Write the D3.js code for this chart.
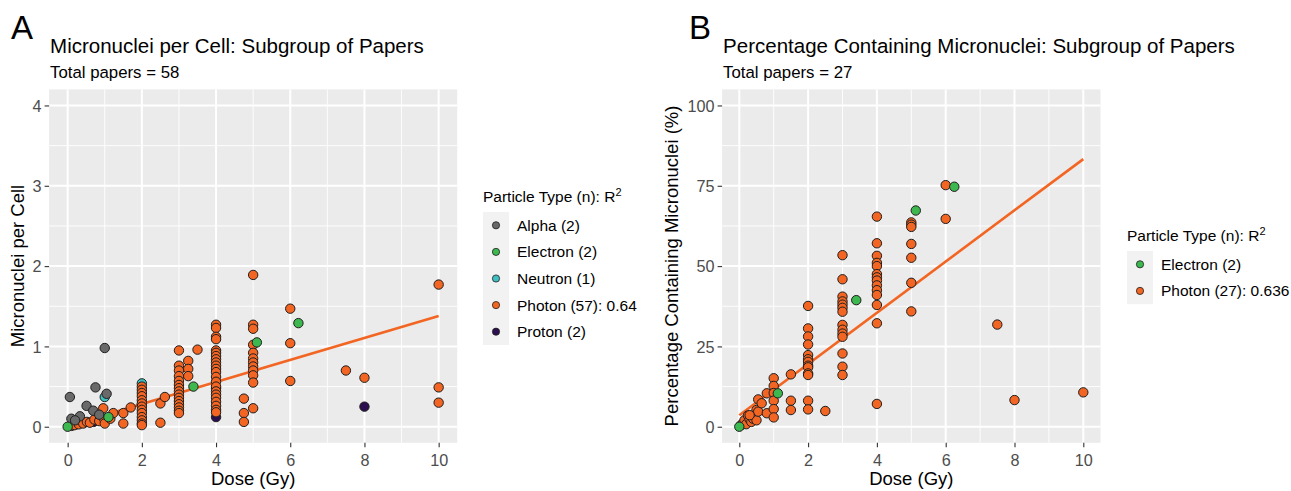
<!DOCTYPE html>
<html><head><meta charset="utf-8">
<script src="https://cdn.jsdelivr.net/npm/d3@7"></script>
<style>
body{margin:0;background:#fff;}
text{font-family:"Liberation Sans",Arial,Helvetica,sans-serif;}
</style>
</head><body>
<svg id="chart" width="1291" height="491"></svg>
<script>
// ---------------- DATA ----------------
const xTicks = [0, 2, 4, 6, 8, 10];
const xMinor = [1, 3, 5, 7, 9];
const yTicksA = [0, 1, 2, 3, 4];
const yMinorA = [0.5, 1.5, 2.5, 3.5];
const yTicksB = [0, 25, 50, 75, 100];
const yMinorB = [12.5, 37.5, 62.5, 87.5];

const categoriesA = ["Alpha", "Electron", "Neutron", "Photon", "Proton"];
const legendLabelsA = ["Alpha (2)", "Electron (2)", "Neutron (1)", "Photon (57): 0.64", "Proton (2)"];
const categoriesB = ["Electron", "Photon"];
const legendLabelsB = ["Electron (2)", "Photon (27): 0.636"];

// Panel A: [dose (Gy), micronuclei per cell]
const alphaA = [[0.06,0.37],[1.0,0.98],[0.75,0.49],[1.05,0.41],[0.51,0.26],[0.69,0.2],[0.1,0.1],[0.33,0.13],[0.2,0.08],[0.85,0.15]];
const electronA = [[0,0],[1.1,0.12],[3.39,0.5],[5.1,1.05],[6.22,1.29]];
const neutronA = [[1.0,0.37],[2.0,0.54]];
const protonA = [[2,0.27],[4,0.48],[4,0.12],[8,0.25],[0.7,0.06]];
const photonA = [
  [0.1,0.01],[0.19,0.02],[0.3,0.03],[0.42,0.04],[0.52,0.06],[0.6,0.05],[0.72,0.09],[0.85,0.07],[0.98,0.1],[0.96,0.23],
  [1.0,0.04],[1.15,0.1],[1.23,0.17],[1.5,0.17],[1.5,0.04],[1.7,0.24],
  [2,0.5],[2,0.46],[2,0.42],[2,0.38],[2,0.33],[2,0.29],[2,0.25],[2,0.21],[2,0.17],[2,0.12],[2,0.08],[2,0.04],[2,0.02],
  [2.5,0.29],[2.62,0.37],[2.5,0.05],
  [3,0.95],[3,0.76],[3,0.7],[3,0.63],[3,0.57],[3,0.52],[3,0.48],[3,0.44],[3,0.4],[3,0.36],[3,0.32],[3,0.28],[3,0.24],[3,0.2],[3,0.17],
  [3.25,0.82],[3.25,0.72],[3.25,0.63],[3.5,0.96],
  [4,1.27],[4,1.23],[4,1.12],[4,1.09],[4,0.95],[4,0.92],[4,0.88],[4,0.84],[4,0.8],[4,0.76],[4,0.72],[4,0.68],[4,0.62],[4,0.56],[4,0.5],[4,0.44],[4,0.4],[4,0.36],[4,0.31],[4,0.26],[4,0.21],[4,0.18],
  [4.75,0.35],[4.75,0.17],[4.75,0.06],
  [5,1.89],[5,1.27],[5,1.22],[5,1.02],[5,0.92],[5,0.85],[5,0.8],[5,0.75],[5,0.7],[5,0.64],[5,0.55],[5,0.23],
  [6,1.47],[6,1.04],[6,0.57],[7.5,0.7],[8,0.61],[10,1.77],[10,0.49],[10,0.3]
];
const fitLineA = [[0,0.01],[10,1.38]];

// Panel B: [dose (Gy), percentage containing micronuclei]
const electronB = [[0,0],[1.12,10.4],[3.4,39.4],[5.13,67.3],[6.25,74.7]];
const photonB = [
  [0.05,0.5],[0.1,1],[0.15,2],[0.2,0.8],[0.25,3.5],[0.3,2.3],[0.35,1.5],[0.4,2.5],[0.5,2],[0.5,5.2],[0.55,8.5],[0.55,4.7],[0.65,7.3],[0.3,3.6],[0.8,10.4],[0.8,4.2],
  [1,15.1],[1,12.7],[1,10.5],[1,8.1],[1,5.5],[1,2.9],
  [1.5,16.3],[1.5,8.1],[1.5,5.2],
  [2,37.6],[2,30.6],[2,28.1],[2,25.6],[2,22.3],[2,21],[2,20.2],[2,19],[2,18.5],[2,16.6],[2,16.1],[2,8.1],[2,5.4],
  [2.5,4.9],
  [3,53.4],[3,45.9],[3,40.5],[3,39],[3,38],[3,37],[3,35.8],[3,31.7],[3,30.2],[3,29],[3,28],[3,22.8],[3,18.7],[3,16.1],
  [4,65.4],[4,57.1],[4,53.2],[4,51],[4,50],[4,47.5],[4,46.5],[4,45.5],[4,44],[4,42.5],[4,41],[4,37.9],[4,32.2],[4,7.1],
  [5,63.6],[5,62.9],[5,62.2],[5,56.9],[5,52.6],[5,44.8],[5,35.9],
  [6,75.2],[6,64.7],[7.5,31.8],[8,8.3],[10,10.7]
];
const fitLineB = [[0,3.6],[10,83.3]];

// ---------------- STYLE ----------------
const colors = {Alpha:"#696969", Electron:"#3cb84f", Neutron:"#3fbfbf", Photon:"#f26522", Proton:"#2c0f4f"};
const FONT = '"Liberation Sans",Arial,sans-serif';
const svg = d3.select("#chart");

function drawPanel(cfg){
  const x = d3.scaleLinear().domain([-0.5, 10.5]).range(cfg.xRange);
  const y = d3.scaleLinear().domain(cfg.yDomain).range([442.8, 89.4]);
  const g = svg.append("g");

  g.append("text").attr("x", cfg.letterX).attr("y", 39).attr("font-size", 33).attr("fill", "#000").text(cfg.letter);
  g.append("text").attr("x", cfg.xRange[0]+1).attr("y", 53).attr("font-size", 20.5).attr("fill", "#000").text(cfg.title);
  g.append("text").attr("x", cfg.xRange[0]+1).attr("y", 78).attr("font-size", 16.8).attr("fill", "#000").text(cfg.subtitle);

  g.append("rect").attr("x", cfg.xRange[0]).attr("y", 89.4)
    .attr("width", cfg.xRange[1]-cfg.xRange[0]).attr("height", 442.8-89.4).attr("fill", "#ebebeb");

  const grid = g.append("g");
  grid.selectAll(".vmin").data(xMinor).join("line").attr("class","vmin")
    .attr("x1", d=>x(d)).attr("x2", d=>x(d)).attr("y1", 89.4).attr("y2", 442.8)
    .attr("stroke", "#fff").attr("stroke-width", 0.9);
  grid.selectAll(".hmin").data(cfg.yMinor).join("line").attr("class","hmin")
    .attr("y1", d=>y(d)).attr("y2", d=>y(d)).attr("x1", cfg.xRange[0]).attr("x2", cfg.xRange[1])
    .attr("stroke", "#fff").attr("stroke-width", 0.9);
  grid.selectAll(".vmaj").data(xTicks).join("line").attr("class","vmaj")
    .attr("x1", d=>x(d)).attr("x2", d=>x(d)).attr("y1", 89.4).attr("y2", 442.8)
    .attr("stroke", "#fff").attr("stroke-width", 2);
  grid.selectAll(".hmaj").data(cfg.yTicks).join("line").attr("class","hmaj")
    .attr("y1", d=>y(d)).attr("y2", d=>y(d)).attr("x1", cfg.xRange[0]).attr("x2", cfg.xRange[1])
    .attr("stroke", "#fff").attr("stroke-width", 2);

  const xAxis = g.append("g").attr("transform", "translate(0,442.8)")
    .call(d3.axisBottom(x).tickValues(xTicks).tickSize(4.5).tickPadding(3).tickFormat(d3.format("d")));
  const yAxis = g.append("g").attr("transform", `translate(${cfg.xRange[0]},0)`)
    .call(d3.axisLeft(y).tickValues(cfg.yTicks).tickSize(4.5).tickPadding(3).tickFormat(d3.format("d")));
  [xAxis, yAxis].forEach(a=>{
    a.select(".domain").remove();
    a.selectAll(".tick line").attr("stroke", "#333").attr("stroke-width", 1.1);
    a.selectAll(".tick text").attr("fill", "#4d4d4d").attr("font-size", 16.2).attr("font-family", FONT);
  });
  xAxis.selectAll(".tick text").attr("dy", "0.95em");
  yAxis.selectAll(".tick text").attr("dy", "0.36em");

  g.append("text").attr("x", (cfg.xRange[0]+cfg.xRange[1])/2).attr("y", 485)
    .attr("text-anchor", "middle").attr("font-size", 18.5).attr("fill", "#000").text("Dose (Gy)");
  g.append("text").attr("transform", `translate(${cfg.yTitleX},266) rotate(-90)`)
    .attr("text-anchor", "middle").attr("font-size", 18.5).attr("fill", "#000").text(cfg.yTitle);

  const clip = "clip-" + cfg.letter;
  g.append("clipPath").attr("id", clip).append("rect")
    .attr("x", cfg.xRange[0]).attr("y", 89.4).attr("width", cfg.xRange[1]-cfg.xRange[0]).attr("height", 442.8-89.4);
  g.append("path").datum(cfg.fit).attr("clip-path", `url(#${clip})`)
    .attr("d", d3.line().x(d=>x(d[0])).y(d=>y(d[1])))
    .attr("fill", "none").attr("stroke", colors.Photon).attr("stroke-width", 2.6);

  cfg.series.forEach(s=>{
    g.append("g").selectAll("circle").data(s.data).join("circle")
      .attr("cx", d=>x(d[0])).attr("cy", d=>y(d[1])).attr("r", 4.7)
      .attr("fill", colors[s.cat]).attr("stroke", "#1e1e1e").attr("stroke-width", 1);
  });

  const lg = g.append("g");
  const lt = lg.append("text").attr("x", cfg.legendX).attr("y", cfg.legendY).attr("font-size", 15.5).attr("fill", "#000");
  lt.append("tspan").text("Particle Type (n): R");
  lt.append("tspan").attr("dy", -6).attr("font-size", 11).text("2");
  const rowH = 26.6;
  const top = cfg.legendY + 10;
  lg.append("rect").attr("x", cfg.legendX).attr("y", top)
    .attr("width", 26).attr("height", rowH*cfg.legendCats.length).attr("fill", "#f2f2f2");
  cfg.legendCats.forEach((c,i)=>{
    const cy = top + rowH*(i+0.5);
    lg.append("circle").attr("cx", cfg.legendX+13).attr("cy", cy).attr("r", 3.6)
      .attr("fill", colors[c]).attr("stroke", "#1e1e1e").attr("stroke-width", 0.8);
    lg.append("text").attr("x", cfg.legendX+34).attr("y", cy).attr("dy", "0.36em")
      .attr("font-size", 15.5).attr("fill", "#000").text(cfg.legendLabels[i]);
  });
}

drawPanel({
  letter: "A", letterX: 11, xRange: [49.1, 457.2], yDomain: [-0.2, 4.2],
  yTicks: yTicksA, yMinor: yMinorA,
  title: "Micronuclei per Cell: Subgroup of Papers", subtitle: "Total papers = 58",
  yTitle: "Micronuclei per Cell", yTitleX: 24,
  fit: fitLineA,
  series: [{cat:"Neutron", data:neutronA},{cat:"Proton", data:protonA},{cat:"Photon", data:photonA},{cat:"Alpha", data:alphaA},{cat:"Electron", data:electronA}],
  legendX: 483, legendY: 202, legendCats: categoriesA, legendLabels: legendLabelsA
});

drawPanel({
  letter: "B", letterX: 689, xRange: [722.1, 1100.5], yDomain: [-5, 105],
  yTicks: yTicksB, yMinor: yMinorB,
  title: "Percentage Containing Micronuclei: Subgroup of Papers", subtitle: "Total papers = 27",
  yTitle: "Percentage Containing Micronuclei (%)", yTitleX: 678,
  fit: fitLineB,
  series: [{cat:"Photon", data:photonB},{cat:"Electron", data:electronB}],
  legendX: 1127, legendY: 241, legendCats: categoriesB, legendLabels: legendLabelsB
});
</script>
</body></html>
